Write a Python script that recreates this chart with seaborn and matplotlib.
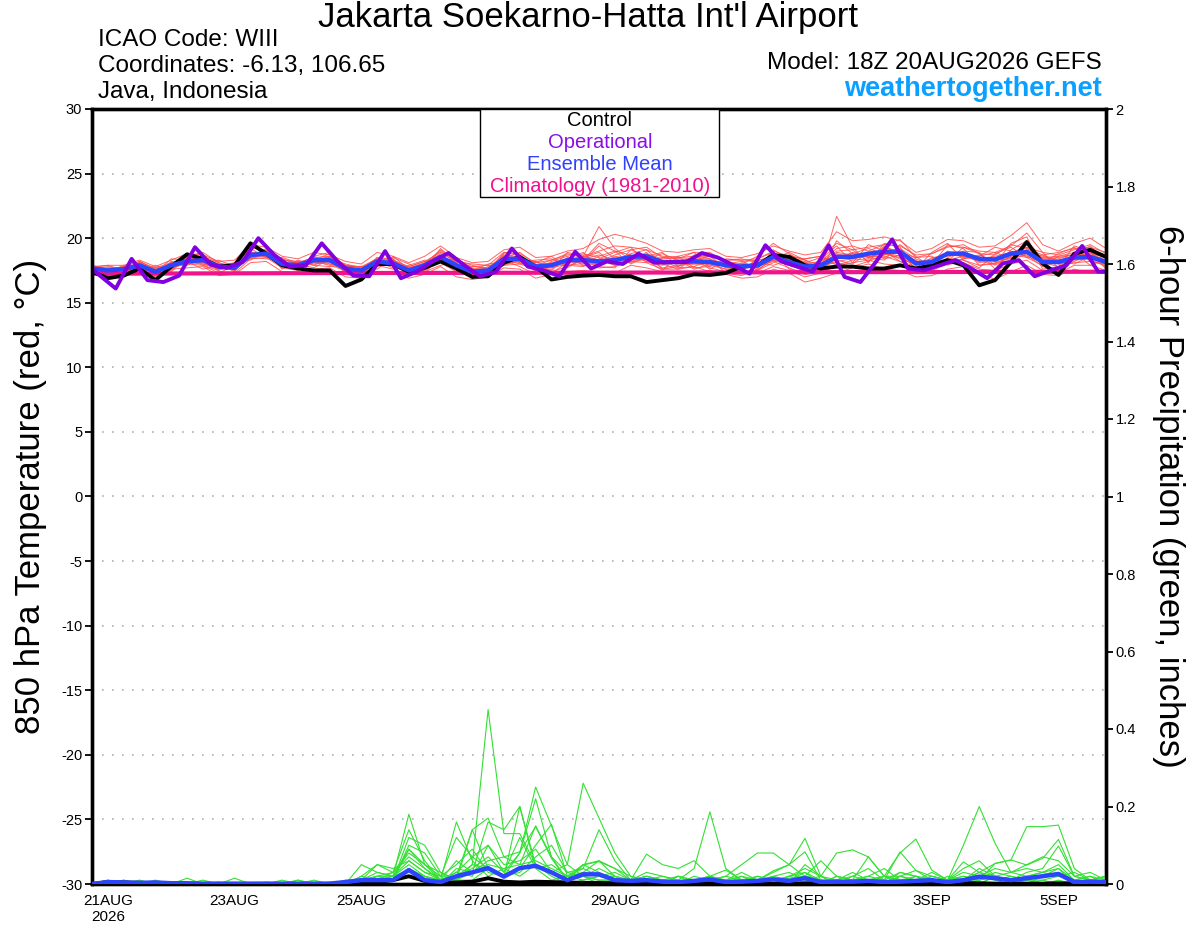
import numpy as np
import pandas as pd
import seaborn as sns
import matplotlib
matplotlib.use('Agg')
import matplotlib.pyplot as plt
from matplotlib.patches import Rectangle
from matplotlib.ticker import FormatStrFormatter

# forecast hours from 18Z 20AUG2026, 6-hourly
hours = list(range(0, 385, 6))
# operational run is plotted at 3h offsets
op_hours = [0] + list(range(3, 384, 6)) + [384]
clim_hours = [0, 96, 192, 288, 384]

date_ticks = [6, 54, 102, 150, 198, 270, 318, 366]
date_labels = ['21AUG\n2026', '23AUG', '25AUG', '27AUG', '29AUG', '1SEP', '3SEP', '5SEP']

# 850 hPa temperature (C)
control_t = [17.4, 16.9, 17.1, 17.65, 16.75, 17.8, 18.75, 18.4, 17.8, 17.9, 19.6, 18.8, 17.9,
             17.65, 17.5, 17.5, 16.3, 16.8, 18.0, 18.0, 17.4, 17.7, 18.2, 17.65, 17.0, 17.05,
             18.1, 18.55, 17.8, 16.8, 17.0, 17.1, 17.15, 17.05, 17.05, 16.6, 16.75, 16.9, 17.2,
             17.15, 17.3, 17.8, 17.9, 18.7, 18.55, 17.9, 17.65, 17.8, 17.8, 17.65, 17.65, 17.9,
             17.65, 17.9, 18.3, 17.9, 16.35, 16.75, 18.15, 19.7, 18.05, 17.15, 18.8, 19.1, 18.55]
mean_t = [17.65, 17.5, 17.6, 17.9, 17.4, 17.9, 18.2, 18.3, 17.8, 17.7, 18.7, 18.8, 18.0,
          17.9, 18.3, 18.3, 17.65, 17.5, 18.2, 18.05, 17.5, 17.9, 18.55, 17.9, 17.4, 17.5,
          18.4, 18.4, 17.8, 17.9, 18.3, 18.3, 18.2, 18.3, 18.55, 18.6, 18.15, 18.15, 18.2,
          18.15, 17.9, 17.8, 17.9, 18.55, 18.15, 17.8, 17.9, 18.55, 18.55, 18.8, 18.95, 18.95,
          18.05, 18.15, 18.8, 18.8, 18.4, 18.35, 18.8, 18.95, 18.15, 18.15, 18.5, 18.55, 18.15]
oper_t = [17.65, 17.1, 16.1, 18.4, 16.75, 16.6, 17.1, 19.3, 17.95, 17.7, 18.15, 20.0, 18.7,
          17.8, 17.9, 19.6, 18.2, 17.1, 17.05, 19.0, 16.9, 17.4,
          18.2, 18.85, 17.9, 17.05, 17.4, 19.2, 17.8, 17.5, 17.05, 18.95, 17.65, 18.2, 18.0,
          18.8, 18.1, 18.15, 18.15, 18.85, 18.5, 17.9, 17.25,
          19.45, 18.2, 17.8, 17.4, 19.45, 17.0, 16.6, 18.2, 19.9, 17.65, 17.5, 17.9, 18.3,
          17.65, 16.9, 18.05, 18.3, 17.05, 17.5, 17.9, 19.4, 17.4, 17.4]
clim_t = [17.25, 17.3, 17.33, 17.37, 17.4]

members_t = [
    [17.9, 17.6, 17.3, 18.2, 17.6, 17.5, 18.6, 18.9, 18.1, 17.5, 19.3, 19.0, 17.8,
     17.6, 18.6, 18.9, 17.2, 17.0, 18.5, 18.4, 17.1, 17.6, 19.2, 18.1, 16.9, 17.2,
     18.9, 18.7, 17.4, 17.6, 18.9, 18.6, 20.9, 19.2, 18.3, 18.9, 17.6, 17.8, 18.7,
     18.4, 17.3, 17.1, 17.6, 19.1, 18.4, 17.2, 17.4, 21.7, 19.3, 18.1, 19.6, 19.3,
     17.4, 17.9, 19.5, 19.2, 17.9, 18.0, 19.6, 20.1, 17.6, 17.8, 19.4, 19.0, 17.6],
    [17.3, 17.2, 17.8, 17.6, 17.1, 18.2, 18.0, 17.9, 17.5, 18.0, 18.5, 18.4, 18.3,
     18.2, 17.9, 17.8, 17.9, 17.8, 17.9, 17.6, 17.9, 18.3, 18.1, 17.4, 17.8, 17.7,
     18.0, 18.2, 18.3, 18.4, 17.9, 17.8, 18.4, 18.9, 19.3, 18.1, 18.5, 18.6, 17.7,
     17.8, 18.4, 18.3, 17.5, 18.1, 18.7, 18.3, 17.6, 18.4, 18.9, 18.5, 18.3, 19.5,
     18.6, 17.7, 18.2, 19.3, 18.8, 17.9, 18.6, 19.3, 18.9, 17.7, 18.2, 18.8, 18.6],
    [17.7, 17.9, 17.5, 17.8, 17.2, 18.1, 18.4, 17.9, 17.3, 17.9, 19.2, 18.5, 17.7,
     17.5, 18.3, 18.8, 17.9, 17.3, 17.8, 18.3, 17.7, 18.1, 18.7, 17.6, 17.2, 17.4,
     18.5, 18.9, 18.0, 17.3, 18.1, 18.8, 18.5, 18.1, 18.8, 19.1, 18.0, 17.6, 18.5,
     18.6, 18.2, 17.5, 18.4, 18.9, 17.6, 17.4, 18.4, 19.4, 18.1, 19.5, 19.0, 18.2,
     17.6, 18.9, 19.6, 18.3, 17.7, 18.8, 19.3, 18.5, 17.9, 18.6, 18.7, 19.4, 18.1],
    [17.5, 17.4, 17.9, 17.5, 17.6, 17.7, 18.0, 18.5, 18.0, 17.4, 18.9, 18.6, 18.1,
     18.1, 18.0, 18.2, 17.4, 17.6, 18.5, 17.8, 17.3, 18.0, 19.1, 18.2, 17.7, 17.1,
     18.3, 17.8, 17.2, 18.2, 18.6, 17.9, 18.0, 18.6, 18.4, 18.3, 17.5, 18.6, 18.9,
     17.7, 17.4, 18.1, 17.8, 18.2, 17.7, 17.2, 18.1, 19.0, 19.1, 18.2, 19.4, 18.8,
     18.3, 17.6, 18.5, 19.0, 18.9, 17.6, 19.1, 19.8, 18.4, 18.0, 18.1, 18.2, 17.9],
    [17.8, 17.5, 17.5, 18.1, 17.5, 17.8, 18.3, 18.2, 17.6, 18.0, 18.6, 19.2, 18.2,
     17.7, 18.6, 18.1, 17.7, 17.3, 18.0, 18.2, 17.5, 17.5, 18.3, 18.3, 17.9, 17.6,
     18.6, 18.5, 17.9, 18.1, 18.4, 18.9, 17.8, 17.7, 19.1, 18.6, 18.3, 17.7, 17.8,
     18.3, 18.0, 18.2, 18.3, 18.5, 18.6, 18.1, 18.5, 18.3, 18.0, 18.9, 18.4, 18.7,
     17.7, 18.5, 18.6, 18.9, 18.1, 18.4, 18.3, 18.8, 18.5, 18.6, 18.9, 17.9, 18.4],
    [17.6, 17.7, 17.7, 17.3, 17.9, 17.4, 18.5, 18.1, 18.3, 17.8, 18.4, 19.0, 17.6,
     18.3, 17.9, 18.4, 18.0, 17.7, 17.6, 18.6, 17.6, 17.3, 18.6, 17.8, 17.5, 18.0,
     18.2, 18.6, 17.6, 18.0, 18.2, 18.2, 19.4, 18.4, 18.1, 18.4, 18.8, 18.3, 17.6,
     18.0, 17.6, 17.7, 18.0, 18.6, 18.4, 18.2, 17.3, 18.9, 18.7, 18.6, 18.5, 19.1,
     18.2, 18.0, 19.0, 18.5, 18.6, 18.9, 18.4, 19.1, 18.0, 18.3, 18.6, 18.8, 18.3],
    [17.4, 17.3, 17.6, 18.0, 17.3, 18.0, 17.9, 18.4, 17.7, 17.6, 18.8, 18.9, 18.0,
     17.8, 18.4, 18.5, 17.3, 17.5, 18.3, 17.9, 17.8, 18.2, 18.4, 17.7, 17.6, 17.3,
     18.7, 18.1, 17.7, 17.5, 18.5, 18.4, 18.7, 18.3, 18.6, 18.6, 18.1, 18.0, 18.3,
     18.6, 17.7, 17.9, 17.6, 18.3, 18.0, 17.6, 18.3, 18.6, 18.8, 19.2, 18.8, 18.5,
     17.9, 18.3, 18.3, 18.6, 18.4, 18.6, 18.9, 19.3, 18.1, 17.8, 18.4, 18.5, 18.0],
    [17.6, 17.1, 17.4, 17.7, 17.0, 17.6, 17.7, 17.8, 17.1, 17.2, 18.1, 18.2, 17.4,
     17.3, 17.6, 17.7, 17.0, 16.9, 17.4, 17.3, 16.9, 17.2, 17.8, 17.0, 16.8, 17.0,
     17.7, 17.6, 16.9, 17.2, 17.4, 17.5, 17.4, 17.3, 17.9, 17.7, 17.4, 17.2, 17.3,
     17.5, 17.2, 16.9, 17.0, 17.6, 17.3, 16.6, 16.9, 17.3, 17.7, 18.0, 17.6, 17.5,
     17.0, 17.1, 17.6, 17.8, 17.3, 16.8, 17.4, 17.9, 17.2, 17.1, 17.6, 17.3, 17.4],
    [17.8, 17.9, 17.9, 18.3, 17.8, 18.3, 18.8, 18.7, 18.2, 18.3, 19.5, 19.3, 18.6,
     18.4, 18.9, 18.7, 18.2, 18.0, 18.9, 18.6, 18.1, 18.6, 19.4, 18.5, 18.1, 18.2,
     19.1, 19.3, 18.5, 18.6, 19.0, 19.2, 19.9, 20.3, 20.0, 19.6, 19.0, 18.9, 19.1,
     19.2, 18.6, 18.5, 18.8, 19.4, 19.0, 18.7, 18.9, 20.5, 19.8, 19.9, 20.1, 19.8,
     18.9, 19.2, 19.9, 19.8, 19.3, 19.4, 20.2, 21.2, 19.5, 19.0, 19.6, 20.0, 19.2],
    [17.5, 17.6, 17.4, 17.9, 17.5, 18.0, 18.1, 18.3, 17.9, 17.5, 18.6, 18.7, 18.1,
     17.9, 18.1, 18.0, 17.6, 17.4, 18.1, 18.1, 17.4, 17.7, 18.5, 17.9, 17.2, 17.5,
     18.3, 18.4, 17.5, 17.8, 18.1, 18.1, 18.0, 18.5, 18.3, 18.4, 17.7, 17.9, 18.0,
     17.9, 17.6, 17.6, 17.9, 18.3, 17.9, 17.5, 17.8, 18.2, 18.4, 18.6, 18.6, 18.2,
     17.8, 17.8, 18.4, 18.3, 17.9, 18.1, 18.5, 18.7, 17.8, 17.6, 18.3, 18.4, 17.8],
    [17.9, 17.3, 17.7, 17.5, 17.7, 17.9, 18.2, 17.6, 17.9, 18.1, 18.3, 18.9, 18.4,
     18.0, 17.7, 18.4, 17.8, 17.8, 17.9, 18.5, 18.0, 17.4, 17.9, 18.2, 18.0, 17.9,
     17.9, 18.0, 18.1, 18.6, 17.7, 18.5, 18.9, 17.9, 18.5, 18.8, 18.4, 18.5, 18.4,
     17.6, 18.3, 18.4, 18.1, 17.9, 18.3, 18.4, 18.6, 17.9, 18.3, 18.4, 19.3, 18.9,
     18.5, 18.6, 17.9, 18.4, 18.7, 18.2, 18.8, 18.5, 18.7, 18.2, 18.0, 18.6, 18.7],
    [17.3, 17.6, 17.2, 18.0, 17.4, 17.6, 18.4, 18.0, 17.6, 17.7, 18.9, 18.6, 17.9,
     18.2, 18.2, 17.9, 17.5, 17.2, 18.2, 17.9, 17.7, 18.0, 18.8, 17.5, 17.3, 17.8,
     18.4, 18.3, 18.2, 17.8, 18.3, 18.0, 18.6, 19.0, 18.7, 18.2, 17.9, 18.2, 18.1,
     18.1, 17.9, 17.8, 17.7, 18.8, 18.2, 17.9, 17.7, 18.7, 18.6, 18.7, 18.9, 18.6,
     18.1, 18.4, 18.9, 18.8, 18.3, 18.5, 18.7, 19.0, 18.3, 18.4, 18.8, 18.6, 18.2],
    [17.6, 17.8, 17.6, 17.7, 17.3, 18.4, 18.3, 18.6, 17.4, 17.3, 18.4, 18.5, 18.5,
     18.1, 18.5, 18.0, 17.8, 17.8, 18.4, 18.4, 17.2, 18.1, 19.0, 18.0, 17.4, 17.6,
     18.8, 18.5, 17.9, 18.3, 18.8, 18.5, 18.2, 18.7, 19.1, 19.3, 18.5, 18.4, 18.9,
     18.9, 18.1, 18.0, 18.6, 19.6, 18.8, 18.0, 18.2, 19.2, 19.4, 19.0, 19.5, 19.9,
     18.5, 18.8, 19.3, 19.5, 18.8, 18.7, 19.5, 19.2, 18.7, 18.9, 19.2, 19.3, 18.9],
    [17.4, 17.5, 17.8, 18.2, 17.6, 17.9, 18.0, 18.6, 18.1, 17.8, 18.5, 19.1, 18.3,
     17.6, 18.2, 18.6, 17.5, 17.4, 18.0, 18.3, 17.6, 17.8, 18.2, 18.4, 17.6, 17.4,
     17.9, 18.3, 18.2, 17.4, 17.8, 18.3, 19.6, 19.0, 18.0, 18.6, 18.9, 17.8, 18.3,
     18.3, 18.1, 17.3, 17.5, 18.4, 18.9, 18.3, 17.9, 18.1, 17.8, 18.2, 18.7, 19.2,
     18.4, 17.9, 18.1, 18.4, 18.6, 19.3, 19.0, 18.6, 18.1, 18.8, 19.3, 18.2, 18.0],
    [17.7, 17.4, 17.5, 17.9, 17.5, 17.7, 18.4, 18.4, 17.9, 17.6, 18.7, 18.6, 17.9,
     17.8, 18.2, 18.5, 17.6, 17.5, 18.2, 17.7, 17.6, 17.9, 18.6, 17.9, 17.3, 17.5,
     18.4, 18.0, 17.6, 17.9, 18.2, 18.6, 18.3, 17.9, 18.2, 18.5, 18.2, 18.1, 18.0,
     18.2, 17.8, 17.7, 18.2, 18.7, 18.3, 17.9, 17.5, 19.8, 18.8, 18.5, 18.9, 18.4,
     18.0, 18.3, 18.7, 18.6, 18.2, 18.0, 18.6, 18.9, 18.6, 18.3, 18.4, 18.9, 18.5],
    [17.5, 17.7, 17.6, 17.6, 17.4, 17.8, 18.1, 18.0, 17.8, 17.9, 18.9, 18.8, 18.0,
     18.0, 18.4, 18.2, 17.8, 17.6, 18.3, 18.1, 17.5, 17.8, 18.5, 17.9, 17.6, 17.7,
     18.6, 18.1, 17.8, 18.0, 18.4, 18.3, 18.1, 18.4, 18.6, 18.7, 18.0, 18.3, 18.4,
     18.4, 17.9, 18.0, 17.8, 18.6, 18.3, 17.8, 18.0, 18.8, 18.5, 18.9, 18.7, 19.0,
     17.9, 18.2, 18.9, 18.9, 18.5, 18.4, 18.9, 19.0, 18.4, 18.5, 18.7, 18.7, 18.3],
    [17.6, 17.4, 17.8, 17.8, 17.3, 17.9, 18.3, 18.1, 17.6, 17.8, 18.6, 18.6, 17.8,
     17.7, 18.1, 18.3, 17.5, 17.4, 18.1, 18.0, 17.4, 17.8, 18.4, 17.6, 17.2, 17.3,
     18.1, 18.2, 17.6, 17.7, 18.0, 17.9, 17.7, 17.8, 18.2, 18.1, 17.6, 17.6, 17.8,
     17.4, 17.3, 17.4, 17.3, 17.8, 17.5, 17.0, 17.3, 17.9, 18.1, 18.3, 18.0, 17.9,
     17.3, 17.5, 18.0, 18.1, 17.6, 17.5, 18.0, 18.3, 17.5, 17.3, 17.9, 17.9, 17.5],
    [17.8, 17.6, 17.7, 18.1, 17.7, 18.1, 18.5, 18.3, 18.0, 17.9, 18.8, 19.0, 18.3,
     18.1, 18.5, 18.6, 17.9, 17.7, 18.4, 18.3, 17.8, 18.2, 18.9, 18.2, 17.8, 17.9,
     18.9, 18.8, 18.1, 18.3, 18.7, 18.6, 19.0, 19.4, 19.3, 19.1, 18.6, 18.5, 18.6,
     18.7, 18.3, 18.3, 18.4, 19.0, 18.6, 18.4, 18.6, 19.6, 19.1, 19.3, 19.5, 19.4,
     18.7, 18.8, 19.4, 19.3, 19.0, 18.9, 19.4, 20.4, 18.9, 18.7, 19.1, 19.5, 18.8],
]

# 6-hour precipitation (inches)
control_p = [0, 0.005, 0.004, 0.003, 0.002, 0, 0, 0, 0, 0, 0, 0, 0,
             0, 0, 0, 0, 0.003, 0.005, 0.01, 0.02, 0.008, 0.003, 0.004, 0.006, 0.015,
             0.006, 0.004, 0.006, 0.005, 0.004, 0.003, 0.003, 0.002, 0.002, 0.002, 0.001, 0.001, 0.002,
             0.002, 0.001, 0.001, 0.002, 0.001, 0.001, 0.002, 0.001, 0.001, 0.001, 0.001, 0.001, 0.001,
             0.001, 0.001, 0.001, 0.002, 0.002, 0.001, 0.001, 0.001, 0.001, 0.002, 0.001, 0.001, 0.001]
mean_p = [0, 0.005, 0.004, 0.003, 0.004, 0.002, 0.002, 0.001, 0.001, 0.001, 0.001, 0.001, 0.001,
          0.001, 0.001, 0.001, 0.005, 0.01, 0.01, 0.01, 0.036, 0.01, 0.005, 0.02, 0.03, 0.041,
          0.019, 0.041, 0.047, 0.03, 0.01, 0.025, 0.025, 0.01, 0.008, 0.01, 0.006, 0.005, 0.008,
          0.012, 0.005, 0.006, 0.008, 0.012, 0.008, 0.015, 0.005, 0.006, 0.006, 0.008, 0.005, 0.006,
          0.008, 0.01, 0.005, 0.01, 0.019, 0.015, 0.01, 0.015, 0.02, 0.026, 0.005, 0.006, 0.005]

members_p = [
    [0, 0.01, 0, 0, 0.005, 0, 0, 0, 0, 0, 0, 0, 0,
     0, 0, 0, 0, 0.01, 0.02, 0.03, 0.14, 0.06, 0.01, 0.02, 0.05, 0.45,
     0.13, 0.13, 0.05, 0.02, 0, 0.01, 0.02, 0.01, 0, 0.01, 0, 0, 0.01,
     0.02, 0, 0, 0.01, 0, 0.02, 0.03, 0, 0.01, 0.02, 0.01, 0, 0,
     0.01, 0, 0, 0, 0.02, 0.01, 0, 0.01, 0, 0.01, 0, 0, 0],
    [0, 0, 0.01, 0, 0, 0.005, 0, 0, 0, 0, 0, 0, 0,
     0.01, 0, 0, 0, 0.05, 0.03, 0.02, 0.18, 0.05, 0.03, 0.01, 0.01, 0.04,
     0.02, 0.08, 0.25, 0.15, 0.05, 0.02, 0, 0, 0.01, 0, 0, 0.02, 0.01,
     0, 0, 0.01, 0.02, 0.01, 0, 0.05, 0.02, 0, 0, 0.01, 0, 0.03,
     0.02, 0, 0, 0.01, 0.03, 0.02, 0, 0, 0.02, 0.04, 0, 0.01, 0],
    [0, 0, 0, 0, 0, 0, 0.015, 0, 0, 0.015, 0, 0, 0,
     0, 0, 0, 0, 0, 0.01, 0.02, 0.09, 0.04, 0.01, 0.16, 0.06, 0.02,
     0.04, 0.02, 0.05, 0.03, 0.05, 0.26, 0.17, 0.08, 0.02, 0.01, 0, 0, 0.01,
     0, 0.01, 0.02, 0, 0, 0.01, 0, 0, 0.02, 0.01, 0, 0.02, 0.01,
     0, 0, 0, 0.01, 0, 0.02, 0.01, 0, 0, 0, 0.01, 0, 0],
    [0, 0, 0, 0, 0.01, 0, 0, 0, 0, 0, 0, 0, 0,
     0, 0.01, 0, 0, 0, 0, 0.01, 0.12, 0.1, 0.03, 0.01, 0.14, 0.17,
     0.07, 0.05, 0.15, 0.07, 0.03, 0.02, 0.01, 0.01, 0, 0.02, 0.01, 0.01, 0.04,
     0.186, 0.04, 0.01, 0, 0, 0.02, 0.01, 0.02, 0, 0, 0.01, 0, 0.02,
     0.01, 0, 0.01, 0, 0, 0.02, 0.01, 0, 0.01, 0, 0.01, 0, 0],
    [0, 0, 0, 0, 0, 0, 0, 0, 0, 0, 0, 0, 0.01,
     0, 0, 0, 0, 0.02, 0.01, 0.01, 0.09, 0.05, 0.02, 0.12, 0.07, 0.04,
     0.02, 0.2, 0.05, 0.03, 0.01, 0.02, 0.04, 0.02, 0.01, 0, 0.01, 0, 0,
     0.01, 0.02, 0.05, 0.08, 0.08, 0.05, 0.02, 0.01, 0, 0.01, 0.07, 0.02, 0.08,
     0.116, 0.036, 0.01, 0.1, 0.2, 0.105, 0.03, 0.02, 0.03, 0.05, 0.01, 0, 0.01],
    [0, 0, 0.01, 0, 0, 0, 0, 0, 0, 0, 0, 0, 0,
     0, 0, 0, 0.01, 0.01, 0.05, 0.03, 0.08, 0.05, 0.01, 0.06, 0.03, 0.16,
     0.14, 0.2, 0.04, 0.01, 0.02, 0.04, 0.14, 0.06, 0.01, 0.077, 0.05, 0.04, 0.06,
     0.02, 0.036, 0.01, 0.01, 0.03, 0.05, 0.118, 0.02, 0.08, 0.088, 0.07, 0.02, 0.02,
     0.035, 0.02, 0.01, 0.057, 0.03, 0.053, 0.062, 0.148, 0.148, 0.152, 0.04, 0.01, 0.02],
    [0, 0, 0, 0.01, 0, 0, 0, 0, 0.005, 0, 0, 0, 0,
     0.01, 0, 0, 0, 0.02, 0.05, 0.04, 0.06, 0.03, 0.01, 0.03, 0.02, 0.1,
     0.03, 0.08, 0.22, 0.07, 0.01, 0.05, 0.06, 0.04, 0.02, 0.01, 0, 0.02, 0,
     0, 0.01, 0.03, 0.01, 0.034, 0.05, 0.083, 0.01, 0, 0.02, 0.04, 0.01, 0.083,
     0.035, 0.01, 0, 0.01, 0.01, 0.053, 0.062, 0.049, 0.066, 0.115, 0.02, 0.03, 0.01],
    [0, 0, 0, 0, 0, 0, 0, 0, 0, 0, 0, 0, 0,
     0, 0, 0, 0, 0.005, 0.01, 0.02, 0.036, 0.02, 0.01, 0.02, 0.14, 0.04,
     0.02, 0.04, 0.1, 0.154, 0.02, 0.05, 0.03, 0.01, 0, 0, 0.01, 0, 0,
     0.01, 0, 0, 0.02, 0.01, 0, 0.02, 0.06, 0.02, 0.01, 0, 0.01, 0,
     0, 0.02, 0.01, 0.04, 0.06, 0.02, 0.01, 0.03, 0.04, 0.098, 0.02, 0.01, 0.02],
    [0, 0, 0, 0, 0, 0, 0, 0, 0, 0, 0, 0, 0,
     0, 0, 0, 0, 0, 0.02, 0.02, 0.05, 0.02, 0, 0.04, 0.03, 0.06,
     0.07, 0.083, 0.148, 0.066, 0.01, 0.049, 0.058, 0.04, 0.01, 0.02, 0.01, 0, 0,
     0.01, 0, 0, 0, 0, 0.01, 0.02, 0.01, 0.01, 0, 0.01, 0.02, 0.01,
     0.01, 0.03, 0.01, 0.02, 0.01, 0.02, 0.01, 0.02, 0.02, 0.03, 0.01, 0.02, 0.01],
    [0, 0.01, 0, 0, 0, 0, 0, 0, 0, 0, 0, 0, 0,
     0, 0, 0, 0, 0, 0, 0.01, 0.036, 0.01, 0, 0.01, 0.05, 0.04,
     0.02, 0.045, 0.049, 0.03, 0.01, 0.02, 0.01, 0.01, 0.005, 0.01, 0, 0.005, 0.01,
     0.02, 0.01, 0, 0.01, 0.01, 0.015, 0.02, 0.01, 0, 0.01, 0.02, 0.01, 0,
     0.02, 0.01, 0, 0.01, 0.03, 0.01, 0.02, 0.01, 0.02, 0.02, 0.01, 0, 0],
    [0, 0, 0, 0.005, 0, 0, 0, 0, 0, 0, 0, 0, 0,
     0, 0, 0, 0, 0.01, 0.01, 0.03, 0.07, 0.04, 0.01, 0.03, 0.07, 0.1,
     0.05, 0.06, 0.09, 0.03, 0.01, 0.03, 0.06, 0.02, 0, 0.01, 0.02, 0.01, 0,
     0.01, 0.02, 0.01, 0, 0.02, 0.01, 0.03, 0.01, 0, 0.01, 0.02, 0.04, 0.01,
     0.02, 0.01, 0.01, 0.03, 0.02, 0.04, 0.03, 0.05, 0.07, 0.06, 0.02, 0.01, 0.01],
    [0, 0, 0, 0, 0, 0, 0, 0, 0, 0, 0, 0, 0,
     0, 0, 0, 0, 0.01, 0.02, 0.01, 0.1, 0.08, 0.02, 0.02, 0.04, 0.07,
     0.03, 0.12, 0.04, 0.05, 0.02, 0.01, 0.02, 0.03, 0.01, 0.02, 0.01, 0, 0.02,
     0.01, 0, 0.02, 0.01, 0, 0.01, 0.02, 0.01, 0.01, 0.03, 0.01, 0, 0.02,
     0.01, 0, 0.02, 0.01, 0.04, 0.02, 0.01, 0.02, 0.03, 0.02, 0.01, 0.02, 0],
    [0, 0, 0.005, 0, 0, 0, 0, 0.01, 0, 0, 0, 0, 0,
     0, 0, 0.005, 0, 0.01, 0.03, 0.02, 0.06, 0.03, 0.02, 0.05, 0.09, 0.03,
     0.02, 0.03, 0.07, 0.1, 0.03, 0.04, 0.02, 0.01, 0.01, 0.03, 0.02, 0.01, 0,
     0.02, 0.01, 0.01, 0.01, 0.02, 0.03, 0.01, 0, 0.02, 0.01, 0.01, 0.02, 0,
     0.01, 0.02, 0.01, 0, 0.01, 0.03, 0.02, 0.01, 0.01, 0.02, 0.03, 0.01, 0.02],
    [0, 0, 0, 0, 0, 0, 0, 0, 0, 0, 0, 0.005, 0,
     0, 0, 0, 0, 0, 0.01, 0.01, 0.04, 0.02, 0.01, 0.01, 0.03, 0.05,
     0.04, 0.05, 0.06, 0.04, 0.02, 0.03, 0.02, 0.02, 0.01, 0.01, 0.01, 0.02, 0.01,
     0.01, 0.01, 0, 0.01, 0.01, 0.02, 0.04, 0.02, 0.01, 0, 0.01, 0.01, 0.03,
     0.02, 0.01, 0.01, 0.02, 0.01, 0.02, 0.03, 0.04, 0.03, 0.04, 0.01, 0, 0.01],
]

sns.set_style('white')
plt.rcParams['font.family'] = ['Liberation Sans', 'DejaVu Sans']
plt.rcParams.update({'text.color': 'black', 'axes.labelcolor': 'black',
                     'xtick.color': 'black', 'ytick.color': 'black',
                     'axes.unicode_minus': False})

fig = plt.figure(figsize=(12, 9.27), dpi=100)
ax = fig.add_axes([92 / 1200, 1 - 884 / 927, 1014 / 1200, 775 / 927])
ax2 = ax.twinx()

# long-form tables for the ensemble spaghetti
temp_df = pd.DataFrame({
    'hour': np.tile(hours, len(members_t)),
    'temp': np.concatenate(members_t),
    'member': np.repeat(np.arange(len(members_t)), len(hours)),
})
prcp_df = pd.DataFrame({
    'hour': np.tile(hours, len(members_p)),
    'prcp': np.concatenate(members_p),
    'member': np.repeat(np.arange(len(members_p)), len(hours)),
})

sns.lineplot(data=temp_df, x='hour', y='temp', units='member', estimator=None,
             color='#ff4a4a', lw=0.7, alpha=0.85, legend=False, ax=ax, zorder=2)
sns.lineplot(x=clim_hours, y=clim_t, color='#f0148c', lw=3.0, ax=ax, zorder=3)
sns.lineplot(x=hours, y=control_t, color='black', lw=2.8, ax=ax, zorder=4)
sns.lineplot(x=hours, y=mean_t, color='#2b45ff', lw=3.2, ax=ax, zorder=5)
sns.lineplot(x=op_hours, y=oper_t, color='#8000e0', lw=2.8, ax=ax, zorder=6)

sns.lineplot(data=prcp_df, x='hour', y='prcp', units='member', estimator=None,
             color='#33e033', lw=0.8, legend=False, ax=ax2, zorder=2)
sns.lineplot(x=hours, y=control_p, color='black', lw=2.8, ax=ax2, zorder=4)
sns.lineplot(x=hours, y=mean_p, color='#2b45ff', lw=3.2, ax=ax2, zorder=5)

ax.set_xlim(0, 384)
ax.set_ylim(-30, 30)
ax.set_yticks(range(-30, 31, 5))
ax.set_xticks(date_ticks)
ax.set_xticklabels(date_labels)
ax.grid(axis='y', color='#b0b0b0', linestyle=(0, (1, 5)), lw=1.2)
ax.set_axisbelow(True)

ax2.set_ylim(0, 2)
ax2.set_yticks(np.arange(0, 2.01, 0.2))
ax2.yaxis.set_major_formatter(FormatStrFormatter('%g'))

for a in (ax, ax2):
    for s in a.spines.values():
        s.set_linewidth(2.4)
        s.set_color('black')
    a.set_xlabel('')
    a.tick_params(axis='both', direction='out', length=5, width=1.3,
                  labelsize=10.5, colors='black', pad=2)
ax.tick_params(axis='x', labelsize=11)

ax.set_ylabel('850 hPa Temperature (red, \u00b0C)', fontsize=25)
ax.yaxis.set_label_coords(-0.044, 0.5)
ax2.set_ylabel('6-hour Precipitation (green, inches)', fontsize=25, rotation=270)
ax2.yaxis.set_label_coords(1.078, 0.5)

# header texts
fig.text(588 / 1200, 1 - 18 / 927, "Jakarta Soekarno-Hatta Int'l Airport",
         ha='center', va='center', fontsize=25)
fig.text(98 / 1200, 1 - 40 / 927, 'ICAO Code: WIII', ha='left', va='center', fontsize=17.5)
fig.text(98 / 1200, 1 - 66 / 927, 'Coordinates: -6.13, 106.65', ha='left', va='center', fontsize=17.5)
fig.text(98 / 1200, 1 - 92 / 927, 'Java, Indonesia', ha='left', va='center', fontsize=17.5)
fig.text(1102 / 1200, 1 - 63 / 927, 'Model: 18Z 20AUG2026 GEFS', ha='right', va='center', fontsize=17.5)
fig.text(1102 / 1200, 1 - 89 / 927, 'weathertogether.net', ha='right', va='center',
         fontsize=19.5, fontweight='bold', color='#0aa0ff')

# legend box
fig.add_artist(Rectangle((480 / 1200, 1 - 197 / 927), 239 / 1200, 88 / 927,
                         transform=fig.transFigure, facecolor='white',
                         edgecolor='black', lw=1.0, zorder=10))
legend_items = [('Control', 'black', 121), ('Operational', '#8a0ee6', 142),
                ('Ensemble Mean', '#3040ff', 164), ('Climatology (1981-2010)', '#f01090', 186)]
for txt, col, ypix in legend_items:
    fig.text(600 / 1200, 1 - ypix / 927, txt, ha='center', va='center',
             fontsize=14.5, color=col, zorder=11)

fig.savefig('out.png', dpi=100)
